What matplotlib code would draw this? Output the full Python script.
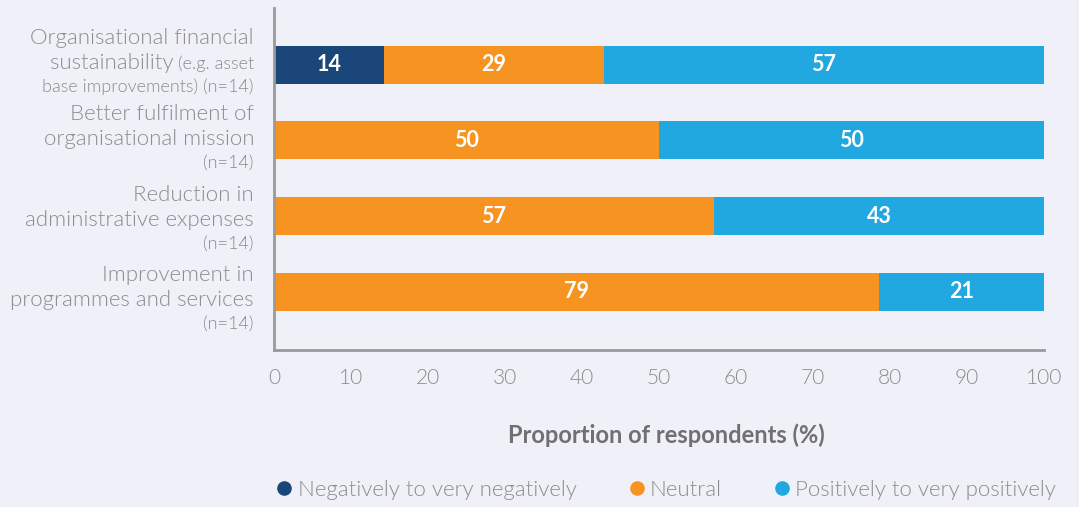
import matplotlib
matplotlib.use("Agg")
import matplotlib.pyplot as plt
from matplotlib.lines import Line2D
import matplotlib.transforms as mtransforms
import numpy as np

# ---- data ----
categories_main = [
    ["Organisational financial", "sustainability"],
    ["Better fulfilment of", "organisational mission"],
    ["Reduction in", "administrative expenses"],
    ["Improvement in", "programmes and services"],
]
categories_note = [
    ["(e.g. asset", "base improvements) (n=14)"],
    ["", "(n=14)"],
    ["", "(n=14)"],
    ["", "(n=14)"],
]
series_names = ["Negatively to very negatively", "Neutral", "Positively to very positively"]
negative = [14.29, 0, 0, 0]
neutral = [28.57, 50.0, 57.14, 78.57]
positive = [57.14, 50.0, 42.86, 21.43]
colors = ["#1B4679", "#F79421", "#22A8E0"]
xticks = [0, 10, 20, 30, 40, 50, 60, 70, 80, 90, 100]
xlabel = "Proportion of respondents (%)"

BG = "#EFF0F8"
GREY = "#8C8C8C"
LW = 300

plt.rcParams['font.family'] = ['Lato', 'DejaVu Sans']

fig = plt.figure(figsize=(10.79, 5.07), dpi=100, facecolor=BG)
ax = fig.add_axes([274/1079, 1-350/507, (1044-274)/1079, (350-8)/507])
ax.set_facecolor(BG)

y = np.arange(len(categories_main))
series = [negative, neutral, positive]
left = np.zeros(len(y))
for vals, col in zip(series, colors):
    vals = np.array(vals, dtype=float)
    ax.barh(y, vals, left=left, height=0.5, color=col, edgecolor='none')
    for yi, (l, v) in enumerate(zip(left, vals)):
        if v > 0:
            ax.text(l + v/2, yi, f"{v:.0f}", ha='center', va='center', color='white',
                    fontsize=15.5, fontweight='bold')
    left += vals

ax.set_xlim(0, 100)
ax.set_ylim(3.77, -0.75)
ax.set_xticks(xticks)
ax.set_xticklabels([str(t) for t in xticks], fontsize=15, color=GREY, fontweight=LW)
ax.tick_params(axis='x', length=0, pad=13)
ax.set_yticks([])
for s in ['top', 'right']:
    ax.spines[s].set_visible(False)
for s in ['left', 'bottom']:
    ax.spines[s].set_color('#9A9A9A')
    ax.spines[s].set_linewidth(2)
ax.set_xlabel(xlabel, fontsize=17, fontweight='bold', color='#707070')
ax.xaxis.set_label_coords(0.509, -0.249)
ax.xaxis.label.set_va('center')

# y labels built line by line
trans = mtransforms.blended_transform_factory(ax.transAxes, ax.transData)
px = 72/100
line_offsets = [-25, 0, 23.5]      # px, relative to label block middle
block_shift = [-2, -1, 4, 8.5]     # px, label block vs bar centre
big, small = 16, 13
renderer = fig.canvas.get_renderer()
xr = -20  # px to left of axis
def lab(text, i, dx, off, size):
    return ax.annotate(text, xy=(0, i), xycoords=trans, xytext=(dx*px, -off*px),
                       textcoords='offset points', ha='right', va='center', fontsize=size,
                       color=GREY, fontweight=LW)
for i in range(len(categories_main)):
    main = categories_main[i]
    note = categories_note[i]
    b = block_shift[i]
    lab(main[0], i, xr, b + line_offsets[0], big)
    if note[0]:
        t = lab(note[0], i, xr, b + line_offsets[1] + 1, small)
        w = t.get_window_extent(renderer).width
        lab(main[1], i, xr - w - 4, b + line_offsets[1], big)
    else:
        lab(main[1], i, xr, b + line_offsets[1], big)
    lab(note[1], i, xr, b + line_offsets[2], small)

handles = [Line2D([0], [0], marker='o', linestyle='none', markersize=10.5,
                  markerfacecolor=c, markeredgecolor='none') for c in colors]
leg = fig.legend(handles, series_names, loc='center', bbox_to_anchor=(667/1079, 1-490/507),
                 ncol=3, frameon=False, handlelength=0.6, handletextpad=0.3, columnspacing=2.4,
                 prop={'size': 16, 'weight': LW})
for t in leg.get_texts():
    t.set_color(GREY)

fig.savefig("out.png", dpi=100, facecolor=BG)
